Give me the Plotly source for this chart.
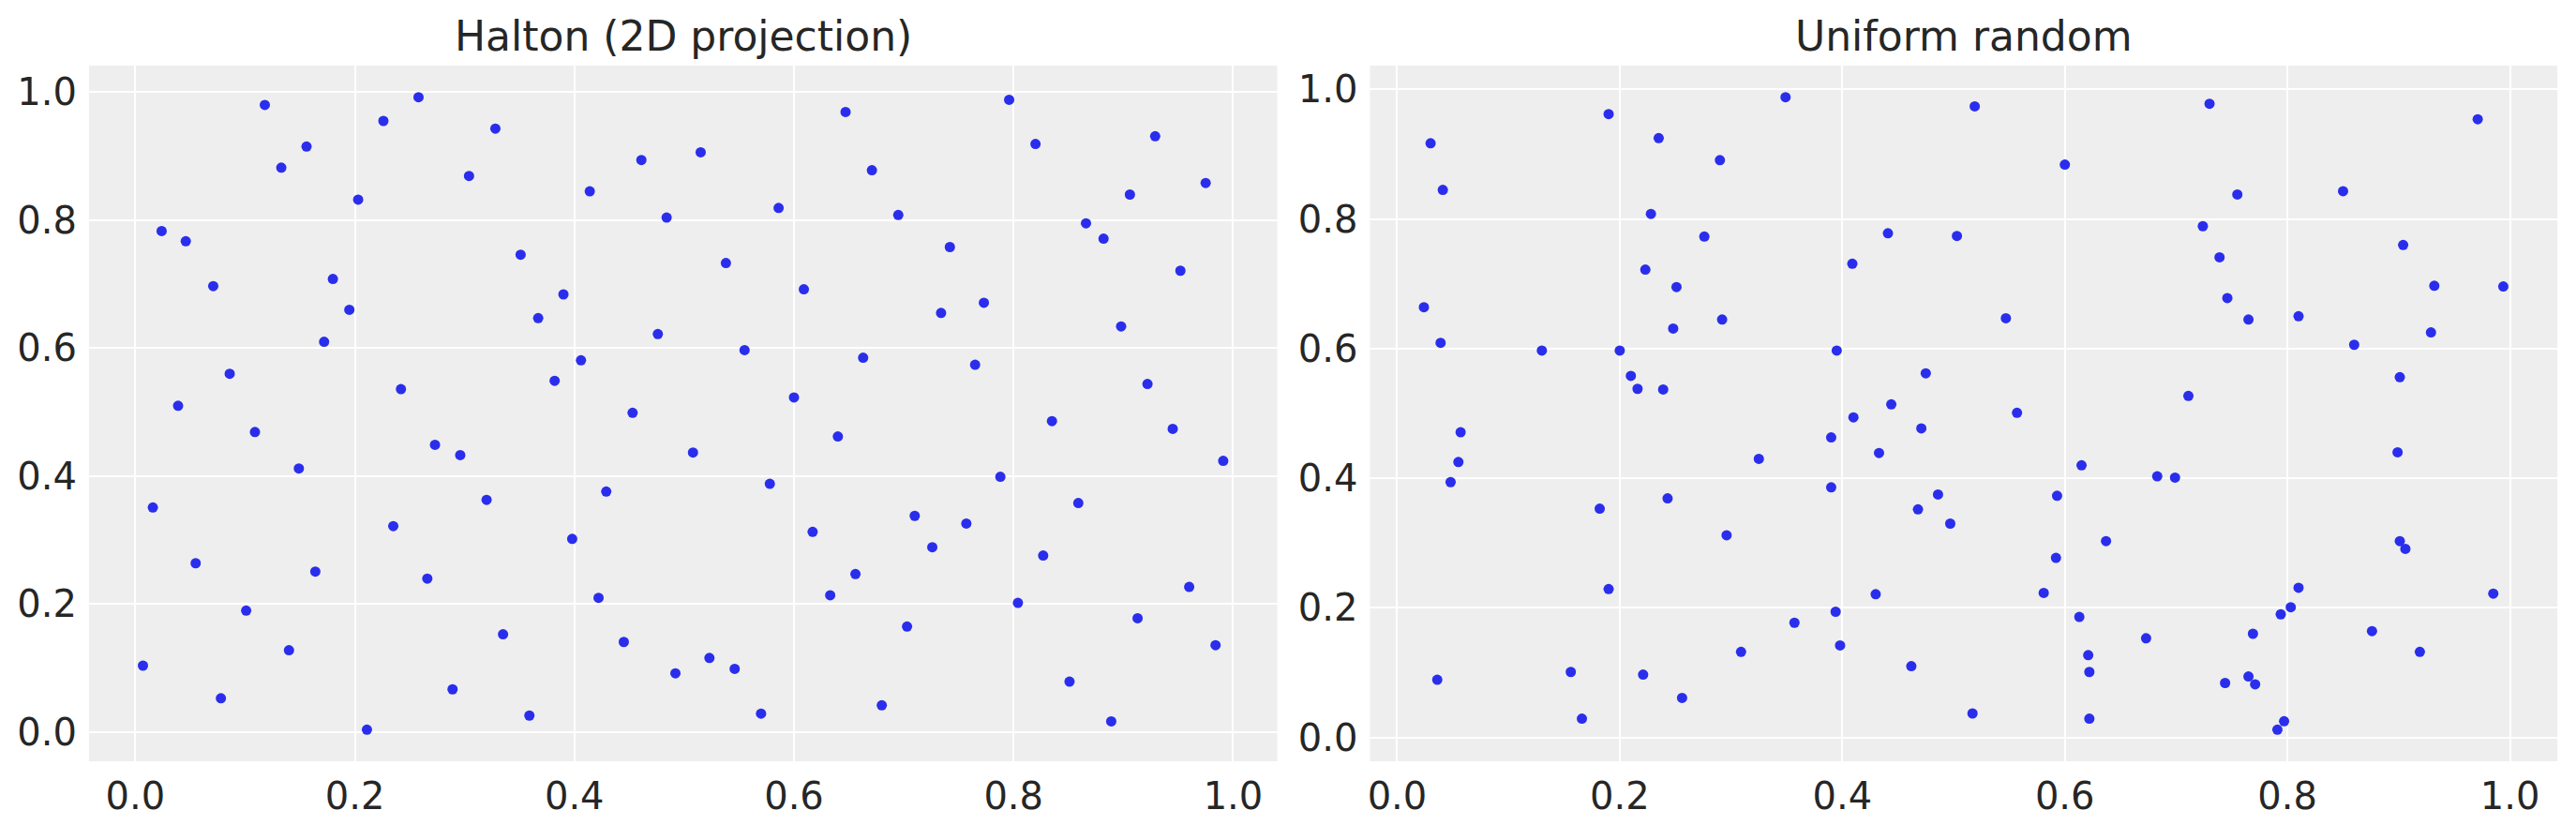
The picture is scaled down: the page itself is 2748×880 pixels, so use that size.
import plotly.graph_objects as go
from plotly.subplots import make_subplots

# Halton (2D projection)
halton_x = [
    0.118, 0.258, 0.226, 0.328, 0.156, 0.133, 0.304, 0.203, 0.024, 0.046,
    0.071, 0.180, 0.195, 0.172, 0.086, 0.039, 0.109, 0.149, 0.016, 0.055,
    0.164, 0.101, 0.140, 0.007, 0.078, 0.211, 0.242, 0.273, 0.296, 0.235,
    0.320, 0.266, 0.335, 0.289, 0.359, 0.351, 0.367, 0.390, 0.382, 0.406,
    0.414, 0.461, 0.484, 0.476, 0.453, 0.398, 0.429, 0.422, 0.445, 0.492,
    0.523, 0.546, 0.570, 0.508, 0.515, 0.538, 0.555, 0.586, 0.578, 0.600,
    0.609, 0.617, 0.647, 0.671, 0.695, 0.663, 0.640, 0.656, 0.633, 0.680,
    0.703, 0.710, 0.726, 0.734, 0.742, 0.757, 0.765, 0.773, 0.788, 0.796,
    0.804, 0.820, 0.827, 0.835, 0.851, 0.859, 0.866, 0.882, 0.889, 0.898,
    0.906, 0.913, 0.922, 0.929, 0.945, 0.952, 0.960, 0.975, 0.984, 0.991,
]
halton_y = [
    0.980, 0.992, 0.955, 0.943, 0.915, 0.882, 0.869, 0.832, 0.783, 0.767,
    0.697, 0.708, 0.660, 0.610, 0.560, 0.510, 0.469, 0.412, 0.351, 0.264,
    0.251, 0.190, 0.128, 0.104, 0.053, 0.004, 0.536, 0.449, 0.433, 0.322,
    0.363, 0.240, 0.153, 0.067, 0.026, 0.746, 0.647, 0.684, 0.549, 0.581,
    0.845, 0.894, 0.804, 0.622, 0.499, 0.302, 0.376, 0.210, 0.141, 0.092,
    0.116, 0.099, 0.029, 0.437, 0.906, 0.733, 0.597, 0.819, 0.388, 0.523,
    0.692, 0.313, 0.969, 0.878, 0.808, 0.585, 0.462, 0.247, 0.214, 0.042,
    0.165, 0.338, 0.289, 0.655, 0.758, 0.326, 0.574, 0.671, 0.399, 0.988,
    0.202, 0.919, 0.276, 0.486, 0.079, 0.358, 0.795, 0.771, 0.017, 0.634,
    0.840, 0.178, 0.544, 0.931, 0.474, 0.721, 0.227, 0.858, 0.136, 0.424,
]

# Uniform random
uniform_x = [
    0.030, 0.041, 0.024, 0.039, 0.057, 0.055, 0.048, 0.036, 0.130, 0.156,
    0.166, 0.182, 0.190, 0.190, 0.200, 0.210, 0.216, 0.221, 0.223, 0.228,
    0.235, 0.239, 0.243, 0.248, 0.251, 0.256, 0.276, 0.290, 0.292, 0.296,
    0.309, 0.325, 0.349, 0.357, 0.390, 0.390, 0.394, 0.395, 0.398, 0.409,
    0.410, 0.430, 0.433, 0.441, 0.444, 0.462, 0.468, 0.471, 0.475, 0.486,
    0.497, 0.503, 0.517, 0.519, 0.547, 0.557, 0.581, 0.592, 0.593, 0.600,
    0.613, 0.615, 0.621, 0.622, 0.622, 0.637, 0.673, 0.683, 0.699, 0.711,
    0.724, 0.730, 0.739, 0.744, 0.746, 0.755, 0.765, 0.765, 0.769, 0.771,
    0.791, 0.794, 0.797, 0.803, 0.810, 0.810, 0.850, 0.860, 0.876, 0.899,
    0.901, 0.901, 0.904, 0.906, 0.919, 0.929, 0.932, 0.971, 0.985, 0.994,
]
uniform_y = [
    0.917, 0.845, 0.664, 0.609, 0.471, 0.425, 0.394, 0.089, 0.597, 0.101,
    0.029, 0.353, 0.229, 0.962, 0.597, 0.558, 0.538, 0.097, 0.722, 0.808,
    0.925, 0.537, 0.369, 0.631, 0.695, 0.061, 0.773, 0.891, 0.645, 0.312,
    0.132, 0.430, 0.988, 0.177, 0.463, 0.386, 0.194, 0.597, 0.142, 0.731,
    0.494, 0.221, 0.439, 0.778, 0.514, 0.110, 0.352, 0.477, 0.562, 0.375,
    0.330, 0.774, 0.037, 0.974, 0.647, 0.501, 0.223, 0.277, 0.373, 0.884,
    0.186, 0.420, 0.127, 0.101, 0.029, 0.303, 0.153, 0.403, 0.401, 0.527,
    0.789, 0.978, 0.741, 0.084, 0.678, 0.838, 0.645, 0.094, 0.160, 0.082,
    0.012, 0.190, 0.025, 0.201, 0.231, 0.650, 0.843, 0.606, 0.164, 0.440,
    0.556, 0.303, 0.760, 0.291, 0.132, 0.625, 0.697, 0.954, 0.222, 0.696,
]

tick_vals = [0.0, 0.2, 0.4, 0.6, 0.8, 1.0]
titles = ["Halton (2D projection)", "Uniform random"]

W, H = 2748, 880
FONT = "DejaVu Sans"


def padded(vals, frac=0.05):
    # same 5% data margin matplotlib uses
    lo, hi = min(vals), max(vals)
    pad = (hi - lo) * frac
    return [lo - pad, hi + pad]


fig = make_subplots(rows=1, cols=2)

for col, (xs, ys) in enumerate([(halton_x, halton_y), (uniform_x, uniform_y)], start=1):
    fig.add_trace(
        go.Scatter(
            x=xs, y=ys, mode="markers",
            marker=dict(color="#2a2eec", size=11, line=dict(width=0)),
            showlegend=False, hoverinfo="skip",
        ),
        row=1, col=col,
    )
    fig.update_xaxes(range=padded(xs), row=1, col=col)
    fig.update_yaxes(range=padded(ys), row=1, col=col)

doms = [(92, 1361), (1460, 2728)]
ytop, ybot = 70, 812
for i, (x0, x1) in enumerate(doms, start=1):
    sfx = "" if i == 1 else str(i)
    fig.layout["xaxis" + sfx].domain = [x0 / W, x1 / W]
    fig.layout["yaxis" + sfx].domain = [1 - ybot / H, 1 - ytop / H]
    fig.add_annotation(
        text=titles[i - 1], xref="paper", yref="paper",
        x=(x0 + x1) / 2 / W, y=1 - 38.5 / H, xanchor="center", yanchor="middle",
        showarrow=False, font=dict(family=FONT, size=44, color="#262626"),
    )

fig.update_xaxes(
    tickvals=tick_vals, tickformat=".1f", showgrid=True, gridcolor="white",
    gridwidth=2, zeroline=False, showline=False, ticks="",
    tickfont=dict(family=FONT, size=40, color="#262626"), ticklabelstandoff=10,
)
fig.update_yaxes(
    tickvals=tick_vals, tickformat=".1f", showgrid=True, gridcolor="white",
    gridwidth=2, zeroline=False, showline=False, ticks="",
    tickfont=dict(family=FONT, size=40, color="#262626"), ticklabelstandoff=12,
)

fig.update_layout(
    width=W, height=H,
    margin=dict(l=0, r=0, t=0, b=0),
    plot_bgcolor="#eeeeee", paper_bgcolor="white",
)

# drop the default page margin so the figure sits at the window's corner
fig.write_html(
    "out.html",
    config={"displayModeBar": False},
    post_script="document.body.style.margin='0';",
)
